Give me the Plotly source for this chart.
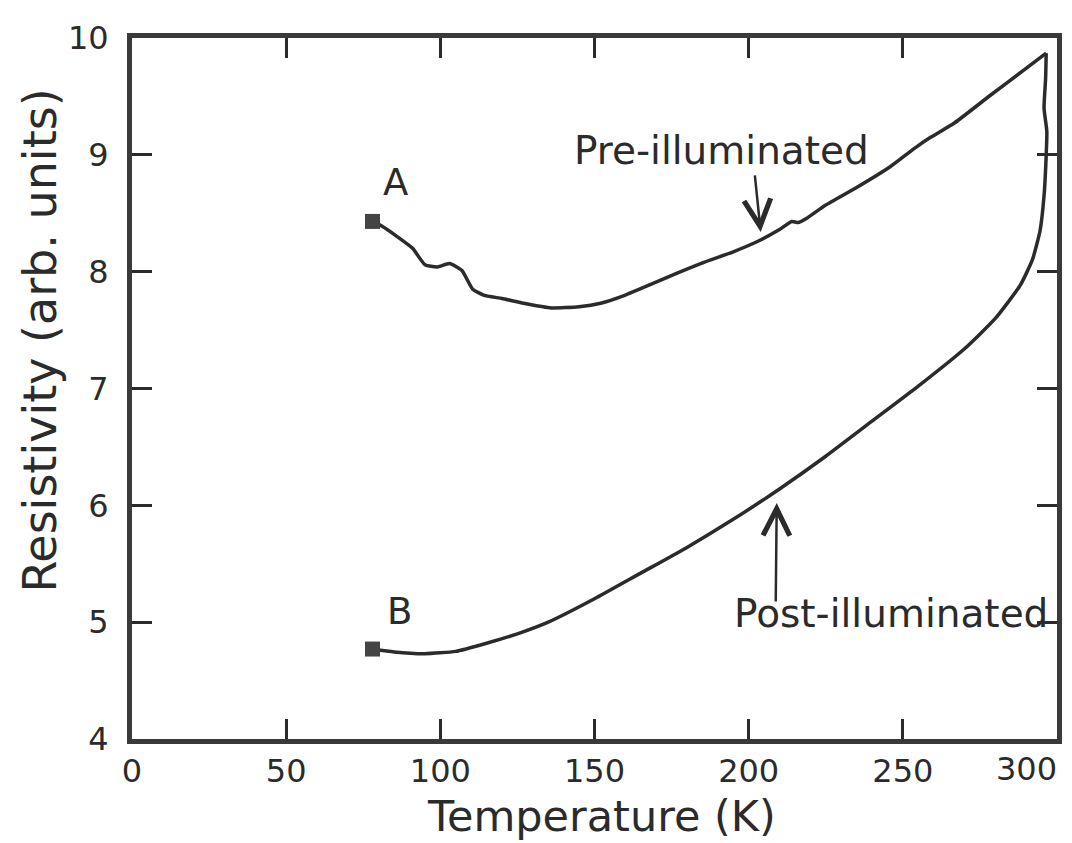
import plotly.graph_objects as go

# Pre-illuminated (warming from A) — temperature (K), resistivity (arb. units)
pre_T = [78, 81, 86, 91, 95, 99, 103, 107, 110.5, 114, 120, 127, 136, 145, 152, 160, 169, 177,
         185.5, 195, 203, 210, 214, 216, 219, 225, 235, 246, 254, 259, 266.6, 278.4, 289, 296.5]
pre_R = [8.43, 8.39, 8.30, 8.20, 8.06, 8.04, 8.07, 8.01, 7.85, 7.80, 7.77, 7.73, 7.69, 7.70, 7.73,
         7.80, 7.90, 7.99, 8.08, 8.17, 8.26, 8.36, 8.43, 8.42, 8.46, 8.57, 8.72, 8.90, 9.06, 9.15,
         9.27, 9.51, 9.72, 9.87]

# Post-illuminated (from B up to the turning point)
post_T = [78, 85, 95, 105, 115, 125, 135, 150, 165, 180, 195, 210, 225, 240, 255, 270, 280, 288,
          292, 294.5, 295.8, 296.5, 296.7, 295.8, 296.3, 296.5]
post_R = [4.77, 4.745, 4.73, 4.75, 4.82, 4.90, 5.00, 5.20, 5.42, 5.64, 5.88, 6.14, 6.42, 6.72,
          7.02, 7.34, 7.60, 7.88, 8.10, 8.35, 8.65, 9.00, 9.20, 9.40, 9.65, 9.87]

x_ticks = [0, 50, 100, 150, 200, 250, 300]
x_labels = ["0", "50", "100", "150", "200", "250", ""]
y_ticks = [4, 5, 6, 7, 8, 9, 10]
y_labels = ["4", "5", "6", "7", "8", "9", "10"]

INK = "#2b2b2b"
FONT = "DejaVu Sans"

fig = go.Figure()
fig.add_trace(go.Scatter(x=pre_T, y=pre_R, mode="lines",
                         line=dict(color=INK, width=3.5, shape="spline", smoothing=0.5),
                         showlegend=False, hoverinfo="skip"))
fig.add_trace(go.Scatter(x=post_T, y=post_R, mode="lines",
                         line=dict(color=INK, width=3.5, shape="spline", smoothing=0.5),
                         showlegend=False, hoverinfo="skip"))
fig.add_trace(go.Scatter(x=[pre_T[0], post_T[0]], y=[pre_R[0], post_R[0]], mode="markers",
                         marker=dict(symbol="square", size=15, color="#444444"),
                         showlegend=False, hoverinfo="skip"))

axis_common = dict(showgrid=False, zeroline=False, showline=True, linewidth=5, linecolor="#3a3a3a",
                   mirror="ticks", ticks="inside", ticklen=20, tickwidth=2.5, tickcolor=INK,
                   tickfont=dict(family=FONT, size=32, color=INK))

fig.update_xaxes(range=[0, 300], tickvals=x_ticks, ticktext=x_labels,
                 ticklabelstandoff=0, **axis_common)
fig.update_yaxes(range=[4, 10], tickvals=y_ticks, ticktext=y_labels,
                 ticklabelstandoff=12, **axis_common)

ann = []
# last x tick label, kept inside the page like the reference
ann.append(dict(x=1.0, y=-0.043, xref="paper", yref="paper", text=str(x_ticks[-1]), showarrow=False,
                xanchor="right", yanchor="middle", xshift=2,
                font=dict(family=FONT, size=32, color=INK)))
ann.append(dict(x=85.3, y=8.76, xref="x", yref="y", text="A", showarrow=False,
                font=dict(family=FONT, size=37, color=INK)))
ann.append(dict(x=86.8, y=5.09, xref="x", yref="y", text="B", showarrow=False,
                font=dict(family=FONT, size=37, color=INK)))
ann.append(dict(x=191.2, y=9.04, xref="x", yref="y", text="Pre-illuminated", showarrow=False,
                font=dict(family=FONT, size=39, color=INK)))
ann.append(dict(x=246, y=5.07, xref="x", yref="y", text="Post-illuminated", showarrow=False,
                font=dict(family=FONT, size=39, color=INK)))
# arrows
ann.append(dict(x=203.9, y=8.34, xref="x", yref="y", ax=-6, ay=-58, text="", showarrow=True,
                arrowhead=5, arrowsize=2.1, arrowwidth=2.5, arrowcolor=INK))
ann.append(dict(x=209.1, y=6.02, xref="x", yref="y", ax=-1, ay=100, text="", showarrow=True,
                arrowhead=5, arrowsize=2.1, arrowwidth=2.5, arrowcolor=INK))
# axis titles
ann.append(dict(x=0.5075, y=0.0, xref="paper", yref="paper", text="Temperature (K)",
                showarrow=False, xanchor="center", yanchor="bottom", yshift=-104,
                font=dict(family=FONT, size=43, color=INK)))
ann.append(dict(x=-0.099, y=0.569, xref="paper", yref="paper", text="Resistivity (arb. units)",
                showarrow=False, xanchor="center", yanchor="middle", textangle=-90,
                font=dict(family=FONT, size=46, color=INK)))

fig.update_layout(width=1072, height=843, margin=dict(l=132, r=10, t=38, b=104),
                  paper_bgcolor="white", plot_bgcolor="white", annotations=ann)

fig.write_html("out.html")
